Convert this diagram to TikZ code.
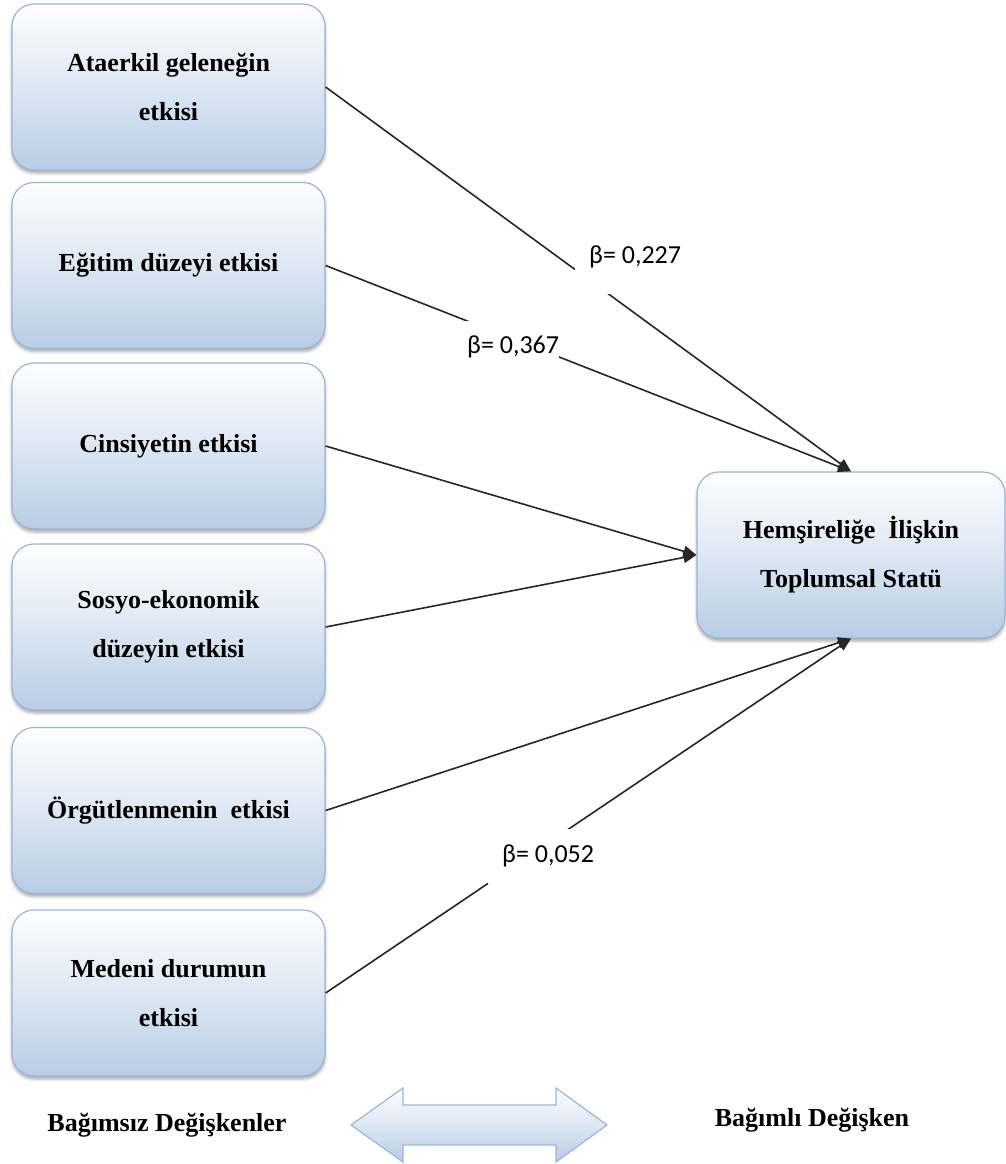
\documentclass[tikz,border=0pt]{standalone}
\usepackage{fontspec}
\setmainfont{Liberation Serif}
\newfontfamily\lblfont{Carlito}
\usetikzlibrary{arrows.meta,shadows.blur}
\definecolor{boxtop}{HTML}{FDFEFF}
\definecolor{boxmid}{HTML}{DDE7F3}
\definecolor{boxbot}{HTML}{B8CCE4}
\definecolor{boxline}{HTML}{9AB5D9}
\begin{document}
\begin{tikzpicture}[x=1pt,y=-1pt,
  varbox/.style={draw=boxline, line width=1.2pt, rounded corners=22pt,
    top color=boxtop, bottom color=boxbot, middle color=boxmid,
    minimum width=313pt, minimum height=166pt, inner sep=0pt, align=center,
    font=\fontsize{26}{49}\selectfont\bfseries,
    blur shadow={shadow xshift=0pt, shadow yshift=-3pt, shadow blur radius=3pt, shadow opacity=35}},
  conn/.style={line width=1.6pt, draw=black!85, -{Triangle[length=13pt,width=11pt]}},
  lbl/.style={fill=white, inner sep=0pt, anchor=north west, font=\lblfont\fontsize{26}{30}\selectfont},
  foot/.style={font=\fontsize{26}{30}\selectfont\bfseries, inner sep=0pt}]
\useasboundingbox (0,0) rectangle (1006,1164);
\node[varbox] (b1) at (168.5,87) {Ataerkil geleneğin\\etkisi};
\node[varbox] (b2) at (168.5,265.5) {Eğitim düzeyi etkisi};
\node[varbox] (b3) at (168.5,446) {Cinsiyetin etkisi};
\node[varbox] (b4) at (168.5,627) {Sosyo-ekonomik\\düzeyin etkisi};
\node[varbox] (b5) at (168.5,810.5) {Örgütlenmenin\ \ etkisi};
\node[varbox] (b6) at (168.5,993) {Medeni durumun\\etkisi};
\node[varbox, minimum width=308pt] (r) at (851,555) {Hemşireliğe\ \ İlişkin\\Toplumsal Statü};
\draw[conn] (b1.east) -- (r.north);
\draw[conn] (b2.east) -- (r.north);
\draw[conn] (b3.east) -- (r.west);
\draw[conn] (b4.east) -- (r.west);
\draw[conn] (b5.east) -- (r.south);
\draw[conn] (b6.east) -- (r.south);
\node[lbl] (l1) at (575,236) {\hspace{14pt}\rule[-31pt]{0pt}{58pt}β= 0,227\hspace{10pt}};
\node[lbl] (l2) at (463,321) {\hspace{4pt}\rule[-13pt]{0pt}{45pt}β= 0,367\hspace{10pt}};
\node[lbl] (l3) at (488,829) {\hspace{14pt}\rule[-22pt]{0pt}{55pt}β= 0,052\hspace{10pt}};
\node[foot] (indep) at (167,1125) {Bağımsız Değişkenler};
\node[foot] (dep) at (812,1120) {Bağımlı Değişken};
\path[draw=boxline, line width=1.2pt, top color=boxtop, bottom color=boxbot, middle color=boxmid]
  (351,1125) -- (403,1088) -- (403,1105) -- (556,1105) -- (556,1088) -- (607,1125)
  -- (556,1162) -- (556,1145) -- (403,1145) -- (403,1162) -- cycle;
\end{tikzpicture}
\end{document}
